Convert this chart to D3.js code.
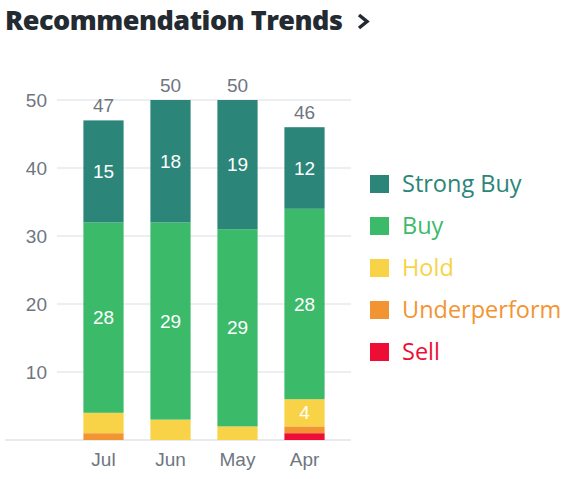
<!DOCTYPE html>
<html>
<head>
<meta charset="utf-8">
<script src="https://cdn.jsdelivr.net/npm/d3@7"></script>
<style>
  body { margin: 0; background: #fff; }
  svg { display: block; }
</style>
</head>
<body>
<div id="chart"></div>
<script>
// chart data
var months = ["Jul", "Jun", "May", "Apr"];
var seriesNames = ["Sell", "Underperform", "Hold", "Buy", "Strong Buy"];
var strongBuy = [15, 18, 19, 12];
var buy = [28, 29, 29, 28];
var hold = [3, 3, 2, 4];
var underperform = [1, 0, 0, 1];
var sell = [0, 0, 0, 1];
var yTicks = [10, 20, 30, 40, 50];

var colors = {
  "Strong Buy": "#2b8579",
  "Buy": "#3bba6a",
  "Hold": "#f8d347",
  "Underperform": "#f39432",
  "Sell": "#ee0d34"
};

var width = 572, height = 479;
var labelFont = "'Liberation Sans', Arial, sans-serif";

// build rows for the stack
var rows = months.map(function(m, i) {
  return {
    month: m,
    "Sell": sell[i],
    "Underperform": underperform[i],
    "Hold": hold[i],
    "Buy": buy[i],
    "Strong Buy": strongBuy[i]
  };
});

var svg = d3.select("#chart")
  .append("svg")
    .attr("width", width)
    .attr("height", height);

// title
svg.append("text")
  .attr("x", 5)
  .attr("y", 30)
  .style("font-family", "'Open Sans', sans-serif")
  .style("font-weight", "800")
  .style("font-size", "27px")
  .style("fill", "#232a31")
  .style("letter-spacing", "-0.5px")
  .text("Recommendation Trends");

// chevron icon next to the title
svg.append("path")
  .attr("d", "M359,15 L367,21.5 L359,28")
  .attr("fill", "none")
  .attr("stroke", "#232a31")
  .attr("stroke-width", 3.5);

var x = d3.scaleBand()
  .domain(months)
  .range([70, 338])
  .paddingInner(0.4)
  .paddingOuter(0.2);

var y = d3.scaleLinear()
  .domain([0, 50])
  .range([440, 100]);

// gridlines
svg.append("g").selectAll("line")
  .data(yTicks)
  .enter().append("line")
    .attr("x1", 57)
    .attr("x2", 351)
    .attr("y1", function(d) { return y(d); })
    .attr("y2", function(d) { return y(d); })
    .attr("stroke", "#e6e8ec")
    .attr("stroke-width", 1.5);

// baseline
svg.append("line")
  .attr("x1", 5)
  .attr("x2", 351)
  .attr("y1", y(0))
  .attr("y2", y(0))
  .attr("stroke", "#e0e3e8")
  .attr("stroke-width", 1.5);

// y tick labels
svg.append("g").selectAll("text")
  .data(yTicks)
  .enter().append("text")
    .attr("x", 47)
    .attr("y", function(d) { return y(d); })
    .attr("dy", "0.35em")
    .attr("text-anchor", "end")
    .style("font-family", labelFont)
    .style("font-size", "19px")
    .style("fill", "#6f7680")
    .text(function(d) { return d; });

var stack = d3.stack().keys(seriesNames);
var stacked = stack(rows);

var layer = svg.append("g").selectAll("g")
  .data(stacked)
  .enter().append("g")
    .attr("fill", function(d) { return colors[d.key]; });

layer.selectAll("rect")
  .data(function(d) { return d; })
  .enter().append("rect")
    .attr("x", function(d) { return x(d.data.month); })
    .attr("y", function(d) { return y(d[1]); })
    .attr("width", x.bandwidth())
    .attr("height", function(d) { return y(d[0]) - y(d[1]); });

// value labels inside segments
layer.selectAll("text")
  .data(function(d) { return d.filter(function(p) { return p[1] - p[0] >= 4; }); })
  .enter().append("text")
    .attr("x", function(d) { return x(d.data.month) + x.bandwidth() / 2; })
    .attr("y", function(d) { return y((d[0] + d[1]) / 2); })
    .attr("dy", "0.35em")
    .attr("text-anchor", "middle")
    .style("font-family", labelFont)
    .style("font-size", "19px")
    .style("fill", "#fff")
    .text(function(d) { return d[1] - d[0]; });

// totals above bars
svg.append("g").selectAll("text")
  .data(rows)
  .enter().append("text")
    .attr("x", function(d) { return x(d.month) + x.bandwidth() / 2; })
    .attr("y", function(d) {
      return y(d3.sum(seriesNames, function(k) { return d[k]; })) - 8;
    })
    .attr("text-anchor", "middle")
    .style("font-family", labelFont)
    .style("font-size", "19px")
    .style("fill", "#6f7680")
    .text(function(d) { return d3.sum(seriesNames, function(k) { return d[k]; }); });

// month labels
svg.append("g").selectAll("text")
  .data(months)
  .enter().append("text")
    .attr("x", function(d) { return x(d) + x.bandwidth() / 2; })
    .attr("y", 466)
    .attr("text-anchor", "middle")
    .style("font-family", labelFont)
    .style("font-size", "19px")
    .style("fill", "#6f7680")
    .text(function(d) { return d; });

// legend
var legendKeys = ["Strong Buy", "Buy", "Hold", "Underperform", "Sell"];
var legend = svg.append("g").selectAll("g")
  .data(legendKeys)
  .enter().append("g")
    .attr("transform", function(d, i) { return "translate(370," + (184 + i * 42) + ")"; });

legend.append("rect")
  .attr("x", 0)
  .attr("y", -9)
  .attr("width", 19)
  .attr("height", 18)
  .attr("fill", function(d) { return colors[d]; });

legend.append("text")
  .attr("x", 32)
  .attr("y", 0)
  .attr("dy", "0.35em")
  .style("font-family", "'Open Sans', sans-serif")
  .style("font-size", "23.5px")
  .style("fill", function(d) { return colors[d]; })
  .text(function(d) { return d; });
</script>
</body>
</html>
